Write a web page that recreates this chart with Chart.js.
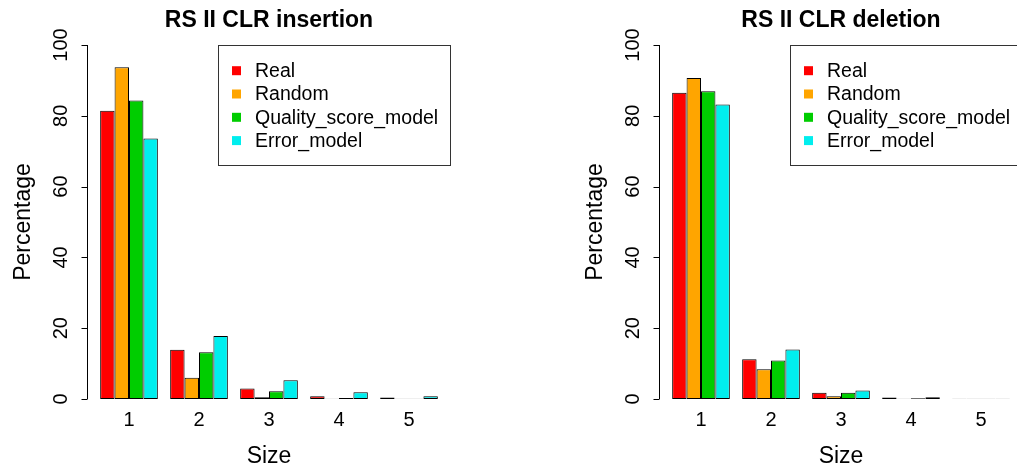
<!DOCTYPE html>
<html>
<head>
<meta charset="utf-8">
<script src="https://cdn.jsdelivr.net/npm/chart.js@4"></script>
<style>
  body { margin: 0; background: #fff; overflow: hidden; width: 1017px; height: 470px; position: relative; }
  canvas { position: absolute; top: 0; }
  #insChart { left: 0; }
  #delChart { left: 572px; }
</style>
</head>
<body>
<canvas id="insChart" width="508" height="470"></canvas>
<canvas id="delChart" width="508" height="470"></canvas>
<script>
// sizes on the x axis
const sizes = ['1', '2', '3', '4', '5'];
const seriesNames = ['Real', 'Random', 'Quality_score_model', 'Error_model'];
const seriesColors = ['#FF0000', '#FFA500', '#00CD00', '#00EEEE'];
const yTicks = [0, 20, 40, 60, 80, 100];

// insertion panel (percent)
const insReal = [81.4, 13.9, 3.0, 0.8, 0.4];
const insRandom = [93.7, 6.0, 0.5, 0.1, 0.05];
const insQuality = [84.3, 13.2, 2.2, 0.3, 0.1];
const insError = [73.6, 17.8, 5.3, 1.9, 0.8];

// deletion panel (percent)
const delReal = [86.5, 11.2, 1.8, 0.4, 0.1];
const delRandom = [90.7, 8.4, 0.8, 0.1, 0.05];
const delQuality = [86.9, 10.9, 1.8, 0.2, 0.05];
const delError = [83.2, 14.0, 2.4, 0.5, 0.1];

Chart.defaults.font.family = '"Liberation Sans", Arial, sans-serif';
Chart.defaults.color = '#000';

// R style detached y axis + legend box
const rStyle = {
  id: 'rStyle',
  afterDraw(chart) {
    const ctx = chart.ctx;
    const y = chart.scales.y;
    const axX = 87.5;
    ctx.save();
    ctx.strokeStyle = '#000';
    ctx.lineWidth = 1;
    ctx.beginPath();
    ctx.moveTo(axX, y.getPixelForValue(0));
    ctx.lineTo(axX, y.getPixelForValue(100));
    yTicks.forEach(v => {
      const py = Math.round(y.getPixelForValue(v)) + 0.5;
      ctx.moveTo(axX, py);
      ctx.lineTo(axX - 6, py);
    });
    ctx.stroke();

    ctx.fillStyle = '#000';
    ctx.font = '20px "Liberation Sans", Arial, sans-serif';
    ctx.textAlign = 'center';
    ctx.textBaseline = 'alphabetic';
    yTicks.forEach(v => {
      ctx.save();
      ctx.translate(67, y.getPixelForValue(v));
      ctx.rotate(-Math.PI / 2);
      ctx.fillText(String(v), 0, 0);
      ctx.restore();
    });

    // y title
    ctx.font = '23px "Liberation Sans", Arial, sans-serif';
    ctx.save();
    ctx.translate(29.5, (chart.chartArea.top + chart.chartArea.bottom) / 2);
    ctx.rotate(-Math.PI / 2);
    ctx.fillText('Percentage', 0, 0);
    ctx.restore();

    // legend
    const bx = 218.5, by = 45.5, bw = 232, bh = 120;
    ctx.strokeStyle = '#333';
    ctx.strokeRect(bx, by, bw, bh);
    ctx.font = '19.5px "Liberation Sans", Arial, sans-serif';
    ctx.textAlign = 'left';
    ctx.textBaseline = 'middle';
    chart.data.datasets.forEach((ds, i) => {
      const cy = 70.7 + i * 23.3;
      ctx.fillStyle = ds.backgroundColor;
      ctx.fillRect(232, cy - 4.5, 9, 9);
      ctx.fillStyle = '#000';
      ctx.fillText(ds.label, 255, cy + 1);
    });
    ctx.restore();
  }
};

function makeChart(id, title, series) {
  const ctx = document.getElementById(id).getContext('2d');
  return new Chart(ctx, {
    type: 'bar',
    data: {
      labels: sizes,
      datasets: series.map((vals, i) => ({
        label: seriesNames[i],
        data: vals,
        backgroundColor: seriesColors[i],
        borderColor: '#000',
        borderWidth: 1,
        borderSkipped: false,
        barPercentage: 1,
        categoryPercentage: 0.824
      }))
    },
    options: {
      responsive: false,
      animation: false,
      devicePixelRatio: 1,
      layout: { padding: { left: 94, right: 64, top: 0.4, bottom: 0 } },
      plugins: {
        legend: { display: false },
        tooltip: { enabled: false },
        title: {
          display: true,
          text: title,
          font: { size: 23, weight: 'bold' },
          padding: { top: 6.5, bottom: 10.5 },
          color: '#000'
        }
      },
      scales: {
        x: {
          grid: { display: false, drawTicks: false },
          border: { display: false },
          ticks: { font: { size: 20 }, padding: 9, color: '#000' },
          title: { display: true, text: 'Size', font: { size: 23 }, padding: { top: 0, bottom: 0 }, color: '#000' },
          afterFit(scale) { scale.height = 71; }
        },
        y: {
          display: false,
          min: 0,
          max: 100
        }
      }
    },
    plugins: [rStyle]
  });
}

makeChart('insChart', 'RS II CLR insertion', [insReal, insRandom, insQuality, insError]);
makeChart('delChart', 'RS II CLR deletion', [delReal, delRandom, delQuality, delError]);
</script>
</body>
</html>
